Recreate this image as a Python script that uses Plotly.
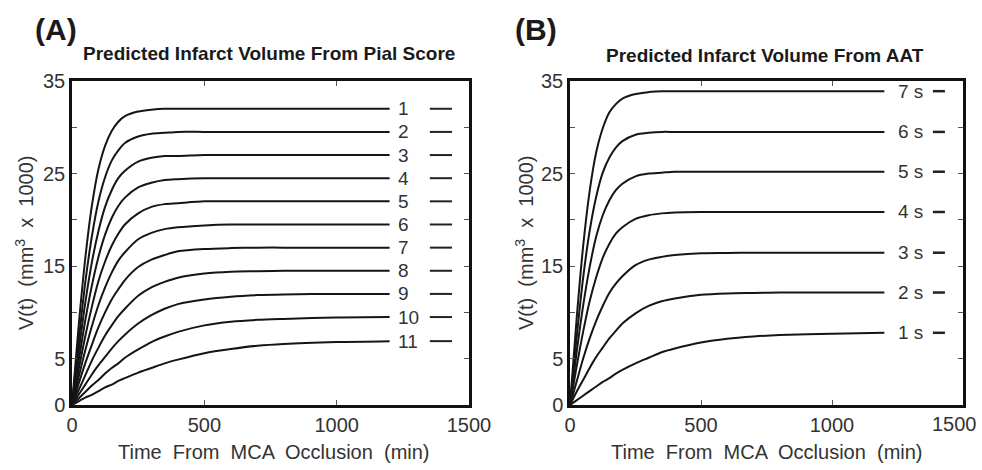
import plotly.graph_objects as go

# ---------------- data ----------------
TIME = [0, 25, 50, 75, 100, 125, 150, 175, 200, 250, 300, 350, 400, 500, 600, 700, 800, 1000, 1200]

PIAL_LABELS = ["1", "2", "3", "4", "5", "6", "7", "8", "9", "10", "11"]
PIAL_1 = [0, 8.5, 15.8, 21.5, 25.5, 28.0, 29.6, 30.6, 31.2, 31.7, 31.9, 32.0, 32.0, 32.0, 32.0, 32.0, 32.0, 32.0, 32.0]
PIAL_2 = [0, 6.9, 13.2, 18.2, 22.0, 24.6, 26.4, 27.5, 28.3, 29.0, 29.3, 29.4, 29.5, 29.5, 29.5, 29.5, 29.5, 29.5, 29.5]
PIAL_3 = [0, 5.7, 11.0, 15.4, 18.8, 21.4, 23.2, 24.5, 25.3, 26.3, 26.7, 26.9, 26.9, 27.0, 27.0, 27.0, 27.0, 27.0, 27.0]
PIAL_4 = [0, 4.7, 9.1, 12.9, 16.0, 18.4, 20.2, 21.5, 22.4, 23.5, 24.0, 24.3, 24.4, 24.5, 24.5, 24.5, 24.5, 24.5, 24.5]
PIAL_5 = [0, 3.8, 7.4, 10.6, 13.4, 15.5, 17.2, 18.5, 19.5, 20.7, 21.4, 21.7, 21.8, 22.0, 22.0, 22.0, 22.0, 22.0, 22.0]
PIAL_6 = [0, 3.0, 5.9, 8.5, 10.8, 12.7, 14.3, 15.6, 16.5, 17.9, 18.6, 19.0, 19.2, 19.4, 19.5, 19.5, 19.5, 19.5, 19.5]
PIAL_7 = [0, 2.3, 4.5, 6.5, 8.4, 10.0, 11.4, 12.5, 13.5, 14.9, 15.7, 16.2, 16.6, 16.85, 16.95, 17.0, 17.0, 17.0, 17.0]
PIAL_8 = [0, 1.6, 3.2, 4.8, 6.2, 7.5, 8.6, 9.6, 10.4, 11.8, 12.7, 13.3, 13.75, 14.2, 14.4, 14.45, 14.5, 14.5, 14.5]
PIAL_9 = [0, 1.1, 2.2, 3.3, 4.3, 5.2, 6.1, 6.9, 7.6, 8.8, 9.7, 10.4, 10.9, 11.4, 11.7, 11.87, 11.94, 12.0, 12.0]
PIAL_10 = [0, 0.7, 1.4, 2.1, 2.7, 3.4, 4.0, 4.5, 5.1, 6.0, 6.8, 7.4, 7.9, 8.6, 9.0, 9.2, 9.3, 9.45, 9.5]
PIAL_11 = [0, 0.4, 0.8, 1.1, 1.5, 1.9, 2.2, 2.6, 2.9, 3.5, 4.0, 4.5, 4.9, 5.6, 6.05, 6.4, 6.6, 6.8, 6.9]
PIAL_SERIES = [PIAL_1, PIAL_2, PIAL_3, PIAL_4, PIAL_5, PIAL_6, PIAL_7,
               PIAL_8, PIAL_9, PIAL_10, PIAL_11]

AAT_LABELS = ["7 s", "6 s", "5 s", "4 s", "3 s", "2 s", "1 s"]
AAT_7 = [0, 9.2, 17.1, 23.1, 27.3, 29.9, 31.6, 32.5, 33.1, 33.6, 33.8, 33.9, 33.9, 33.9, 33.9, 33.9, 33.9, 33.9, 33.9]
AAT_6 = [0, 7.2, 13.7, 18.8, 22.5, 25.1, 26.7, 27.8, 28.5, 29.2, 29.4, 29.5, 29.5, 29.5, 29.5, 29.5, 29.5, 29.5, 29.5]
AAT_5 = [0, 5.6, 10.7, 14.9, 18.2, 20.5, 22.1, 23.2, 23.9, 24.7, 25.0, 25.1, 25.2, 25.2, 25.2, 25.2, 25.2, 25.2, 25.2]
AAT_4 = [0, 4.1, 7.9, 11.2, 13.8, 15.9, 17.4, 18.5, 19.2, 20.1, 20.5, 20.7, 20.8, 20.85, 20.85, 20.85, 20.85, 20.85, 20.85]
AAT_3 = [0, 2.5, 5.0, 7.2, 9.1, 10.7, 12.1, 13.1, 13.9, 15.1, 15.7, 16.0, 16.2, 16.4, 16.43, 16.45, 16.45, 16.45, 16.45]
AAT_2 = [0, 1.4, 2.7, 4.0, 5.2, 6.2, 7.2, 8.0, 8.8, 9.9, 10.7, 11.2, 11.5, 11.9, 12.05, 12.1, 12.15, 12.15, 12.15]
AAT_1 = [0, 0.5, 1.0, 1.5, 2.0, 2.5, 2.9, 3.4, 3.8, 4.5, 5.1, 5.7, 6.1, 6.75, 7.16, 7.4, 7.55, 7.7, 7.8]
AAT_SERIES = [AAT_7, AAT_6, AAT_5, AAT_4, AAT_3, AAT_2, AAT_1]

X_TICKS = [0, 500, 1000, 1500]
X_TICKTEXT = ["0", "500", "1000", "1500"]
Y_TICKS = [0, 5, 10, 15, 20, 25, 30, 35]
Y_TICKTEXT = ["0", "5", "", "15", "", "25", "", "35"]

TITLE_A = "Predicted Infarct Volume From Pial Score"
TITLE_B = "Predicted Infarct Volume From AAT"
X_TITLE = "Time  From  MCA  Occlusion  (min)"
Y_TITLE = "V(t)  (mm<sup>3</sup>  x  1000)"

# ---------------- style / placement ----------------
W, H = 982, 470
FONT = "Liberation Sans, Arial, sans-serif"
TXT = "#333333"
LINE = "#151515"
LABEL_X_A, LABEL_X_B = 1225, 1245
DASH_A = (1352, 1436)
DASH_B = (1385, 1431)


def px(x):
    return x / W


def py(y):
    return 1 - y / H


fig = go.Figure()

for series in PIAL_SERIES:
    fig.add_trace(go.Scatter(x=TIME, y=series, mode="lines", xaxis="x", yaxis="y",
                             line=dict(color=LINE, width=2, shape="spline", smoothing=0.8),
                             showlegend=False, hoverinfo="skip"))
for series in AAT_SERIES:
    fig.add_trace(go.Scatter(x=TIME, y=series, mode="lines", xaxis="x2", yaxis="y2",
                             line=dict(color=LINE, width=2, shape="spline", smoothing=0.8),
                             showlegend=False, hoverinfo="skip"))

annotations = []
shapes = []
for lab, series in zip(PIAL_LABELS, PIAL_SERIES):
    annotations.append(dict(x=LABEL_X_A, y=series[-1], xref="x", yref="y", text=lab,
                            xanchor="left", yanchor="middle", showarrow=False,
                            font=dict(family=FONT, size=19, color=TXT)))
    shapes.append(dict(type="line", xref="x", yref="y", x0=DASH_A[0], x1=DASH_A[1],
                       y0=series[-1], y1=series[-1], line=dict(color="#222", width=2)))
for lab, series in zip(AAT_LABELS, AAT_SERIES):
    annotations.append(dict(x=LABEL_X_B, y=series[-1], xref="x2", yref="y2", text=lab,
                            xanchor="left", yanchor="middle", showarrow=False,
                            font=dict(family=FONT, size=19, color=TXT)))
    shapes.append(dict(type="line", xref="x2", yref="y2", x0=DASH_B[0], x1=DASH_B[1],
                       y0=series[-1], y1=series[-1], line=dict(color="#222", width=2.5)))

# panel letters and titles
annotations += [
    dict(x=px(33), y=py(30), xref="paper", yref="paper", text="<b>(A)</b>", showarrow=False,
         xanchor="left", yanchor="middle", font=dict(family=FONT, size=30, color="#1a1a1a")),
    dict(x=px(513), y=py(30), xref="paper", yref="paper", text="<b>(B)</b>", showarrow=False,
         xanchor="left", yanchor="middle", font=dict(family=FONT, size=30, color="#1a1a1a")),
    dict(x=px(269), y=py(53), xref="paper", yref="paper", text="<b>" + TITLE_A + "</b>",
         showarrow=False, xanchor="center", yanchor="middle",
         font=dict(family=FONT, size=19, color="#1a1a1a")),
    dict(x=px(765), y=py(55), xref="paper", yref="paper", text="<b>" + TITLE_B + "</b>",
         showarrow=False, xanchor="center", yanchor="middle",
         font=dict(family=FONT, size=19, color="#1a1a1a")),
    dict(x=px(274), y=py(452), xref="paper", yref="paper", text=X_TITLE, showarrow=False,
         xanchor="center", yanchor="middle", font=dict(family=FONT, size=20, color=TXT)),
    dict(x=px(767), y=py(452), xref="paper", yref="paper", text=X_TITLE, showarrow=False,
         xanchor="center", yanchor="middle", font=dict(family=FONT, size=20, color=TXT)),
    dict(x=px(24), y=py(243), xref="paper", yref="paper", text=Y_TITLE, showarrow=False,
         textangle=-90, xanchor="center", yanchor="middle",
         font=dict(family=FONT, size=20, color=TXT)),
    dict(x=px(524), y=py(243), xref="paper", yref="paper", text=Y_TITLE, showarrow=False,
         textangle=-90, xanchor="center", yanchor="middle",
         font=dict(family=FONT, size=20, color=TXT)),
    # last x tick label of panel B, kept inside the page edge
    dict(x=px(979), y=py(424), xref="paper", yref="paper", text=X_TICKTEXT[-1],
         showarrow=False, xanchor="right", yanchor="middle",
         font=dict(family=FONT, size=20, color=TXT)),
]

xax = dict(range=[0, 1500], tickvals=X_TICKS, ticktext=X_TICKTEXT, ticks="inside", ticklen=5,
           tickwidth=1, tickcolor="#555", showline=True, linecolor="#111", linewidth=2.5,
           mirror="ticks", showgrid=False, zeroline=False, automargin=False,
           tickfont=dict(family=FONT, size=20, color=TXT))
yax = dict(range=[0, 35], tickvals=Y_TICKS, ticktext=Y_TICKTEXT, ticks="inside", ticklen=5,
           tickwidth=1, tickcolor="#555", showline=True, linecolor="#111", linewidth=2.5,
           mirror="ticks", showgrid=False, zeroline=False, automargin=False,
           tickfont=dict(family=FONT, size=20, color=TXT))

y_dom = [py(405), py(81)]
fig.update_layout(
    width=W, height=H, margin=dict(l=0, r=0, t=0, b=0, autoexpand=False),
    paper_bgcolor="white", plot_bgcolor="white",
    xaxis=dict(xax, domain=[px(72), px(469)], anchor="y"),
    yaxis=dict(yax, domain=y_dom, anchor="x"),
    xaxis2=dict(xax, domain=[px(570), px(963)], anchor="y2",
                ticktext=X_TICKTEXT[:-1] + [""]),
    yaxis2=dict(yax, domain=y_dom, anchor="x2"),
    annotations=annotations, shapes=shapes, showlegend=False,
)

fig.write_html("out.html", config={"displayModeBar": False},
               post_script="document.body.style.margin='0px';"
                           "document.body.style.overflow='hidden';")
